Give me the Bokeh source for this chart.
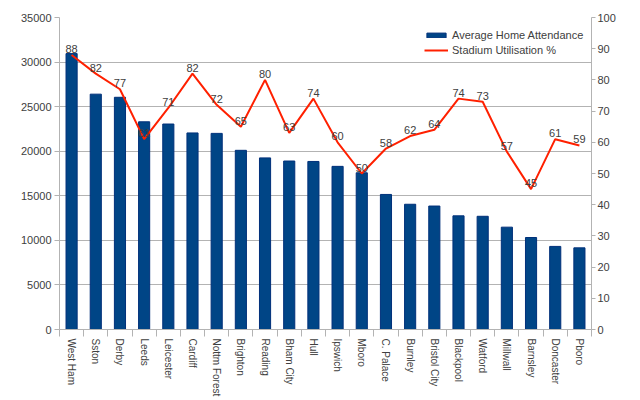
from bokeh.plotting import figure
from bokeh.models import (Range1d, LinearAxis, FixedTicker, ColumnDataSource,
                          Legend, LegendItem)
from bokeh.embed import file_html
from bokeh.resources import INLINE
from bokeh.core.properties import value
import math

teams = ["West Ham", "Sston", "Derby", "Leeds", "Leicester", "Cardiff", "Nottm Forest",
         "Brighton", "Reading", "Bham City", "Hull", "Ipswich", "Mboro", "C. Palace",
         "Burnley", "Bristol City", "Blackpool", "Watford", "Millwall", "Barnsley",
         "Doncaster", "Pboro"]
attendance = [30950, 26400, 26050, 23300, 23050, 22050, 22000, 20100, 19250, 18900,
              18850, 18300, 17580, 15150, 14050, 13850, 12750, 12700, 11480, 10320,
              9320, 9160]
utilisation = [88, 82, 77, 61, 71, 82, 72, 65, 80, 63, 74, 60, 50, 58, 62, 64, 74, 73,
               57, 45, 61, 59]
left_ticks = [0, 5000, 10000, 15000, 20000, 25000, 30000, 35000]
right_ticks = [0, 10, 20, 30, 40, 50, 60, 70, 80, 90, 100]

FONT = "Liberation Sans"
TXT = "#404040"
GRID = "#b3b3b3"

idx = list(range(len(teams)))
src = ColumnDataSource(dict(x=idx, att=attendance, util=utilisation,
                            lab=[str(u) for u in utilisation]))

p = figure(frame_width=532, frame_height=312, output_backend="svg", toolbar_location=None,
           x_range=Range1d(-0.5, len(teams) - 0.5), y_range=Range1d(0, 35000),
           min_border_left=59, min_border_right=10, min_border_top=17,
           min_border_bottom=10)
p.extra_y_ranges = {"util": Range1d(0, 100)}
p.outline_line_color = None
p.background_fill_color = "white"

bars = p.vbar(x="x", top="att", width=0.46, source=src, fill_color="#004586",
              line_color="#00307a", line_width=1)
line = p.line(x="x", y="util", source=src, y_range_name="util", line_color="#ff2000",
              line_width=2)
p.text(x="x", y="util", text="lab", source=src, y_range_name="util",
       text_align="center", text_baseline="bottom", y_offset=-2,
       text_font=value(FONT), text_font_size="11px", text_color=TXT)

# axes
p.xaxis.ticker = FixedTicker(ticks=idx, minor_ticks=[i - 0.5 for i in range(len(teams) + 1)])
p.xaxis.major_label_overrides = {i: t for i, t in enumerate(teams)}
p.xaxis.major_label_orientation = -math.pi / 2
p.xaxis.minor_tick_out = 7
p.xaxis.minor_tick_in = 0
p.xaxis.minor_tick_line_color = GRID
p.xaxis.major_label_standoff = 2

p.yaxis.ticker = FixedTicker(ticks=left_ticks)
p.yaxis.minor_tick_line_color = None
p.yaxis.major_tick_in = 0
p.yaxis.major_tick_out = 5
p.yaxis.major_label_standoff = 3

ra = LinearAxis(y_range_name="util", ticker=FixedTicker(ticks=right_ticks))
ra.minor_tick_line_color = None
ra.major_tick_in = 0
ra.major_tick_out = 4
ra.major_label_standoff = 2
p.add_layout(ra, "right")

for ax in [p.xaxis[0], p.yaxis[0], ra]:
    ax.axis_line_color = GRID
    ax.major_tick_line_color = GRID if ax is not p.xaxis[0] else None
    ax.major_label_text_font = FONT
    ax.major_label_text_font_size = "11px"
    ax.major_label_text_color = TXT
p.xaxis.major_label_text_font_size = "10px"

p.xgrid.grid_line_color = None
p.ygrid.ticker = FixedTicker(ticks=left_ticks)
p.ygrid.grid_line_color = GRID

legend = Legend(items=[LegendItem(label="Average Home Attendance", renderers=[bars]),
                       LegendItem(label="Stadium Utilisation %", renderers=[line])],
                location=(365, 272))
legend.border_line_color = None
legend.background_fill_alpha = 0
legend.label_text_font = FONT
legend.label_text_font_size = "11px"
legend.label_text_color = TXT
legend.glyph_width = 24
legend.glyph_height = 6
legend.spacing = 0
legend.padding = 4
legend.margin = 0
legend.label_height = 15
legend.label_standoff = 4
p.add_layout(legend)

open("out.html", "w").write(file_html(p, INLINE))
